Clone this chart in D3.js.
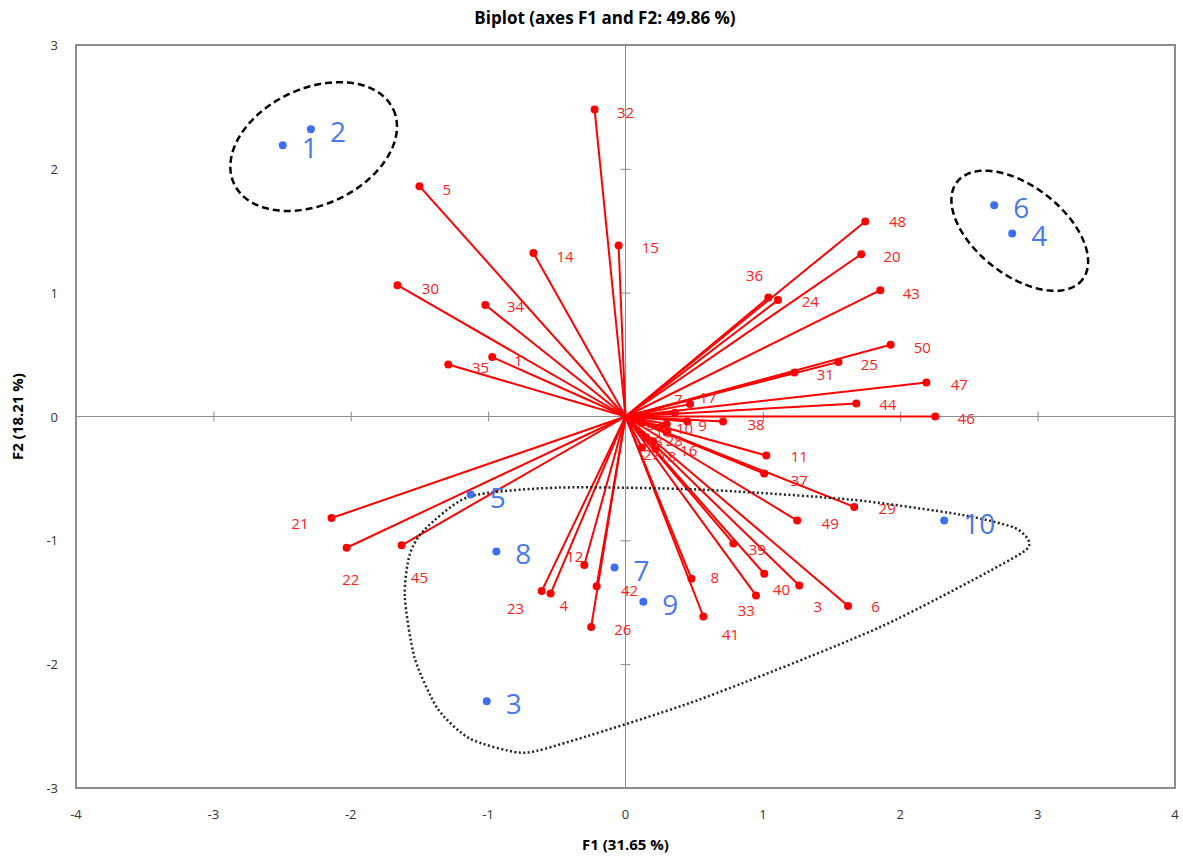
<!DOCTYPE html>
<html>
<head>
<meta charset="utf-8">
<script src="https://cdn.jsdelivr.net/npm/d3@7"></script>
<style>
  body { margin: 0; background: #fff; }
  svg { font-family: "Open Sans", "Liberation Sans", sans-serif; }
</style>
</head>
<body>
<div id="chart"></div>
<script>
// variable vectors (F1, F2) and where their labels sit, in axis units
var varNames = d3.range(1, 51).map(String);
var varF1 = [-0.97, 0.12, 1.265, -0.545, -1.50, 1.62, 0.36, 0.48, 0.45, 0.30,
             1.025, -0.30, 0.15, -0.67, -0.05, 0.22, 0.47, 0.12, 0.25, 1.716,
             -2.14, -2.03, -0.61, 1.11, 1.55, -0.25, 0.20, 0.30, 1.665, -1.66,
             1.23, -0.225, 0.95, -1.02, -1.29, 1.04, 1.01, 0.71, 0.785, 1.01,
             0.567, -0.21, 1.855, 1.68, -1.63, 2.255, 2.19, 1.745, 1.25, 1.93];
var varF2 = [0.48, -0.05, -1.365, -1.43, 1.86, -1.53, 0.03, -1.31, -0.04, -0.06,
             -0.315, -1.20, -0.17, 1.32, 1.38, -0.26, 0.10, -0.25, -0.09, 1.31,
             -0.82, -1.06, -1.41, 0.94, 0.44, -1.70, -0.20, -0.13, -0.73, 1.06,
             0.355, 2.48, -1.445, 0.90, 0.42, 0.96, -0.46, -0.04, -1.025, -1.27,
             -1.615, -1.37, 1.02, 0.105, -1.04, 0.0, 0.275, 1.575, -0.84, 0.58];
var varLabF1 = [-0.78, 0.175, 1.40, -0.45, -1.30, 1.82, 0.385, 0.65, 0.56, 0.43,
                1.265, -0.37, 0.21, -0.44, 0.18, 0.46, 0.60, 0.305, 0.276, 1.94,
                -2.37, -2.0, -0.80, 1.345, 1.775, -0.02, 0.19, 0.355, 1.905, -1.42,
                1.455, 0.0, 0.88, -0.80, -1.055, 0.94, 1.265, 0.95, 0.96, 1.135,
                0.764, 0.03, 2.08, 1.91, -1.50, 2.48, 2.43, 1.98, 1.49, 2.16];
var varLabF2 = [0.46, -0.057, -1.53, -1.52, 1.84, -1.53, 0.14, -1.30, -0.065, -0.09,
                -0.32, -1.13, -0.194, 1.30, 1.37, -0.27, 0.16, -0.315, -0.105, 1.30,
                -0.86, -1.31, -1.55, 0.93, 0.42, -1.72, -0.30, -0.19, -0.735, 1.04,
                0.34, 2.455, -1.56, 0.89, 0.40, 1.14, -0.51, -0.057, -1.066, -1.39,
                -1.753, -1.40, 1.00, 0.097, -1.30, -0.016, 0.26, 1.575, -0.856, 0.565];

// observations
var obsNames = ["1", "2", "3", "4", "5", "6", "7", "8", "9", "10"];
var obsF1 = [-2.495, -2.29, -1.01, 2.815, -1.127, 2.684, -0.08, -0.94, 0.13, 2.32];
var obsF2 = [2.19, 2.32, -2.30, 1.478, -0.63, 1.705, -1.22, -1.09, -1.495, -0.84];

// group outlines: ellipses as centre + two conjugate half-axes, in axis units
var ellipses = [
  {c: [-2.27, 2.18], a: [0.58, 0.30], b: [0.178, -0.425]},
  {c: [2.87, 1.50], a: [0.46, -0.389], b: [-0.19, -0.290]}
];
var hullF1 = [-1.462, -1.135, -0.48, 0.538, 1.629, 2.429, 2.829, 2.938, 2.829,
              1.847, 0.538, -0.48, -0.771, -1.135, -1.367, -1.535, -1.607, -1.571];
var hullF2 = [-0.913, -0.646, -0.574, -0.590, -0.670, -0.791, -0.897, -1.018, -1.139,
              -1.704, -2.286, -2.649, -2.714, -2.600, -2.360, -1.950, -1.450, -1.115];

var xTicks = [-4, -3, -2, -1, 0, 1, 2, 3, 4];
var yTicks = [-3, -2, -1, 0, 1, 2, 3];

var width = 1183, height = 856;
var margin = {top: 45, right: 8, bottom: 68, left: 76};

var svg = d3.select("#chart").append("svg")
    .attr("width", width)
    .attr("height", height);

var x = d3.scaleLinear().domain([-4, 4]).range([margin.left, width - margin.right]);
var y = d3.scaleLinear().domain([-3, 3]).range([height - margin.bottom, margin.top]);

// title
svg.append("text")
    .attr("x", 605).attr("y", 24)
    .attr("text-anchor", "middle")
    .style("font-size", "17px").style("font-weight", "bold")
    .text("Biplot (axes F1 and F2: 49.86 %)");

// frame
svg.append("rect")
    .attr("x", x(-4)).attr("y", y(3))
    .attr("width", x(4) - x(-4)).attr("height", y(-3) - y(3))
    .attr("fill", "none").attr("stroke", "#8c8c8c").attr("stroke-width", 2);

// zero axes with small ticks
var axX = d3.axisBottom(x).tickValues(xTicks.slice(1, -1)).tickSizeInner(10).tickSizeOuter(0).tickFormat("");
svg.append("g").attr("transform", "translate(0," + (y(0) - 5) + ")").call(axX)
    .call(g => g.select(".domain").remove())
    .selectAll("line").attr("stroke", "#8c8c8c");
svg.append("line")
    .attr("x1", x(-4)).attr("x2", x(4)).attr("y1", y(0)).attr("y2", y(0))
    .attr("stroke", "#8c8c8c");
var axY = d3.axisLeft(y).tickValues(yTicks.slice(1, -1)).tickSizeInner(10).tickSizeOuter(0).tickFormat("");
svg.append("g").attr("transform", "translate(" + (x(0) + 5) + ",0)").call(axY)
    .call(g => g.select(".domain").remove())
    .selectAll("line").attr("stroke", "#8c8c8c");
svg.append("line")
    .attr("x1", x(0)).attr("x2", x(0)).attr("y1", y(3)).attr("y2", y(-3))
    .attr("stroke", "#8c8c8c");

// tick labels
svg.selectAll(".xt").data(xTicks).enter().append("text")
    .attr("x", d => x(d)).attr("y", height - margin.bottom + 31)
    .attr("text-anchor", "middle")
    .style("font-size", "13px").attr("fill", "#333")
    .text(d => d);
svg.selectAll(".yt").data(yTicks).enter().append("text")
    .attr("x", margin.left - 18).attr("y", d => y(d) + 5)
    .attr("text-anchor", "end")
    .style("font-size", "13px").attr("fill", "#333")
    .text(d => d);

// axis titles
svg.append("text")
    .attr("x", x(0)).attr("y", 850)
    .attr("text-anchor", "middle")
    .style("font-size", "15px").style("font-weight", "bold")
    .text("F1 (31.65 %)");
svg.append("text")
    .attr("transform", "translate(23," + y(0) + ") rotate(-90)")
    .attr("text-anchor", "middle")
    .style("font-size", "15px").style("font-weight", "bold")
    .text("F2 (18.21 %)");

// variable vectors
var vars = varNames.map((n, i) => ({name: n, f1: varF1[i], f2: varF2[i], lf1: varLabF1[i], lf2: varLabF2[i]}));
svg.selectAll(".vec").data(vars).enter().append("line")
    .attr("x1", x(0)).attr("y1", y(0))
    .attr("x2", d => x(d.f1)).attr("y2", d => y(d.f2))
    .attr("stroke", "#ff0000").attr("stroke-width", 2);
svg.selectAll(".vdot").data(vars).enter().append("circle")
    .attr("cx", d => x(d.f1)).attr("cy", d => y(d.f2))
    .attr("r", 4).attr("fill", "#ff0000");
svg.selectAll(".vlab").data(vars).enter().append("text")
    .attr("x", d => x(d.lf1)).attr("y", d => y(d.lf2))
    .attr("text-anchor", "middle").attr("dominant-baseline", "central")
    .style("font-size", "15px").attr("fill", "#ff2020")
    .text(d => d.name);

// group outlines
var line = d3.line().x(p => x(p[0])).y(p => y(p[1]));
ellipses.forEach(function (e) {
    var pts = d3.range(0, 361, 4).map(function (deg) {
        var t = deg * Math.PI / 180;
        return [e.c[0] + e.a[0] * Math.cos(t) + e.b[0] * Math.sin(t),
                e.c[1] + e.a[1] * Math.cos(t) + e.b[1] * Math.sin(t)];
    });
    svg.append("path").attr("d", line(pts))
        .attr("fill", "none").attr("stroke", "#000")
        .attr("stroke-width", 2.5).attr("stroke-dasharray", "7,4");
});
var hull = hullF1.map((v, i) => [v, hullF2[i]]);
svg.append("path")
    .attr("d", d3.line().x(p => x(p[0])).y(p => y(p[1])).curve(d3.curveCardinalClosed.tension(0.3))(hull))
    .attr("fill", "none").attr("stroke", "#222")
    .attr("stroke-width", 2.5).attr("stroke-dasharray", "2,2.5");

// observations
var obs = obsNames.map((n, i) => ({name: n, f1: obsF1[i], f2: obsF2[i]}));
svg.selectAll(".odot").data(obs).enter().append("circle")
    .attr("cx", d => x(d.f1)).attr("cy", d => y(d.f2))
    .attr("r", 4).attr("fill", "#3f6ff0");
svg.selectAll(".olab").data(obs).enter().append("text")
    .attr("x", d => x(d.f1) + 19).attr("y", d => y(d.f2) + 13)
    .style("font-size", "28px").attr("fill", "#4a78ee")
    .text(d => d.name);
</script>
</body>
</html>
